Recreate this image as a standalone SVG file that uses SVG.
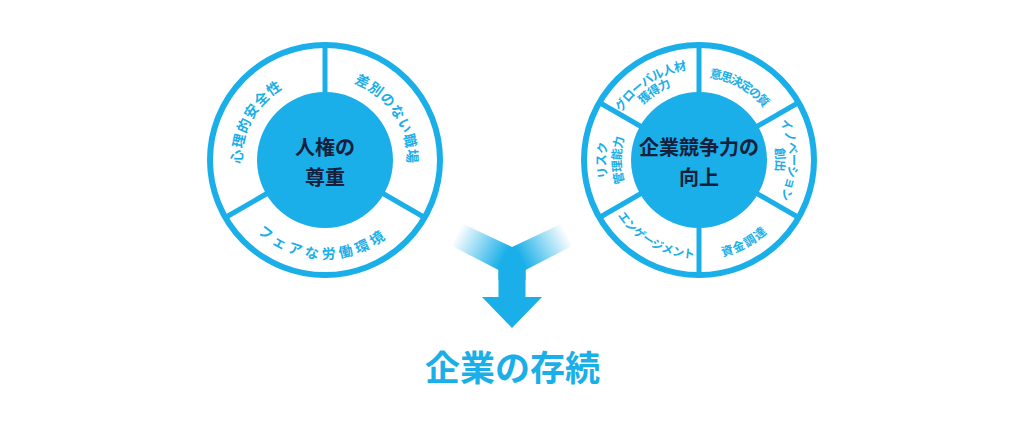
<svg xmlns="http://www.w3.org/2000/svg" width="1024" height="427" viewBox="0 0 1024 427">
<style>
.ring{fill:#fff;stroke:#1aafe8;stroke-width:6}
.div{stroke:#1aafe8;stroke-width:5}
.core{fill:#1aafe8}
.ctr{font-family:"Noto Sans CJK JP","Noto Sans",sans-serif;font-weight:700;font-size:20px;fill:#14213d;text-anchor:middle}
.seg{font-family:"Noto Sans CJK JP","Noto Sans",sans-serif;font-weight:700;fill:#1aafe8;dominant-baseline:central}
.big{font-family:"Noto Sans CJK JP","Noto Sans",sans-serif;font-weight:700;font-size:35px;fill:#1aafe8;text-anchor:middle}
</style>
<defs>
<path id="pL1" d="M241.91,191.90 A89,89 0 0 1 308.02,72.64"/>
<path id="pL2" d="M335.73,72.66 A88,88 0 0 1 409.15,185.73"/>
<path id="pL3" d="M251.72,217.26 A93,93 0 0 0 394.11,222.23"/>
<path id="pR1a" d="M606.24,131.64 A97,97 0 0 1 710.82,63.73"/>
<path id="pR1b" d="M618.19,135.29 A84.5,84.5 0 0 1 709.30,76.13"/>
<path id="pR2" d="M682.02,72.64 A89,89 0 0 1 782.09,128.10"/>
<path id="pR3a" d="M772.54,98.29 A96,96 0 0 1 772.54,221.71"/>
<path id="pR3b" d="M762.58,106.65 A83,83 0 0 1 762.58,213.35"/>
<path id="pR4" d="M688.42,252.90 A93.5,93.5 0 0 0 782.68,201.72"/>
<path id="pR5" d="M611.42,192.74 A93.5,93.5 0 0 0 716.04,251.94"/>
<path id="pR6a" d="M623.16,223.64 A99,99 0 0 1 623.16,96.36"/>
<path id="pR6b" d="M634.65,214.00 A84,84 0 0 1 634.65,106.00"/>
<linearGradient id="gL" gradientUnits="userSpaceOnUse" x1="458" y1="232" x2="504" y2="257">
<stop offset="0" stop-color="#1aafe8" stop-opacity="0"/>
<stop offset="1" stop-color="#1aafe8" stop-opacity="1"/>
</linearGradient>
<linearGradient id="gR" gradientUnits="userSpaceOnUse" x1="566" y1="232" x2="520" y2="257">
<stop offset="0" stop-color="#1aafe8" stop-opacity="0"/>
<stop offset="1" stop-color="#1aafe8" stop-opacity="1"/>
</linearGradient>
</defs>
<rect width="1024" height="427" fill="#fff"/>

<g id="node-human-rights">
<circle class="ring" cx="325" cy="160" r="115"/>
<line class="div" x1="325" y1="160" x2="325" y2="45"/>
<line class="div" x1="325" y1="160" x2="424.59" y2="217.5"/>
<line class="div" x1="325" y1="160" x2="225.41" y2="217.5"/>
<circle class="core" cx="325" cy="160" r="68"/>
<text class="ctr" x="325" y="155">人権の</text>
<text class="ctr" x="325" y="185">尊重</text>
<text class="seg" font-size="14" letter-spacing="2.2"><textPath href="#pL1" startOffset="50%" text-anchor="middle">心理的安全性</textPath></text>
<text class="seg" font-size="14" letter-spacing="1.8"><textPath href="#pL2" startOffset="50%" text-anchor="middle">差別のない職場</textPath></text>
<text class="seg" font-size="14" letter-spacing="2.8"><textPath href="#pL3" startOffset="50%" text-anchor="middle">フェアな労働環境</textPath></text>
</g>

<g id="node-competitiveness">
<circle class="ring" cx="699" cy="160" r="115"/>
<line class="div" x1="699" y1="160" x2="699" y2="45"/>
<line class="div" x1="699" y1="160" x2="798.59" y2="102.5"/>
<line class="div" x1="699" y1="160" x2="798.59" y2="217.5"/>
<line class="div" x1="699" y1="160" x2="699" y2="275"/>
<line class="div" x1="699" y1="160" x2="599.41" y2="217.5"/>
<line class="div" x1="699" y1="160" x2="599.41" y2="102.5"/>
<circle class="core" cx="699" cy="160" r="68"/>
<text class="ctr" x="699" y="155">企業競争力の</text>
<text class="ctr" x="699" y="185">向上</text>
<text class="seg" font-size="12" letter-spacing="0.2"><textPath href="#pR1a" startOffset="50%" text-anchor="middle">グローバル人材</textPath></text>
<text class="seg" font-size="12" letter-spacing="0"><textPath href="#pR1b" startOffset="50%" text-anchor="middle">獲得力</textPath></text>
<text class="seg" font-size="12" letter-spacing="-0.8"><textPath href="#pR2" startOffset="50%" text-anchor="middle">意思決定の質</textPath></text>
<text class="seg" font-size="12" letter-spacing="0.2"><textPath href="#pR3a" startOffset="50%" text-anchor="middle">イノベーション</textPath></text>
<text class="seg" font-size="12" letter-spacing="0.5"><textPath href="#pR3b" startOffset="50%" text-anchor="middle">創出</textPath></text>
<text class="seg" font-size="12" letter-spacing="0.2"><textPath href="#pR4" startOffset="50%" text-anchor="middle">資金調達</textPath></text>
<text class="seg" font-size="11.5" letter-spacing="-0.7"><textPath href="#pR5" startOffset="50%" text-anchor="middle">エンゲージメント</textPath></text>
<text class="seg" font-size="12" letter-spacing="0.5"><textPath href="#pR6a" startOffset="50%" text-anchor="middle">リスク</textPath></text>
<text class="seg" font-size="12" letter-spacing="0.2"><textPath href="#pR6b" startOffset="50%" text-anchor="middle">管理能力</textPath></text>
</g>

<g id="connectors">
<polygon points="459,222 512,247 512,280 498.5,280 498.5,270 452,246" fill="url(#gL)"/>
<polygon points="565,222 512,247 512,280 525.5,280 525.5,270 572,246" fill="url(#gR)"/>
<polygon points="498.5,268 525.5,268 525.5,297 542,297 512,328 482,297 498.5,297" fill="#1aafe8"/>
</g>

<g id="node-survival">
<text class="big" x="512.5" y="381">企業の存続</text>
</g>
</svg>
